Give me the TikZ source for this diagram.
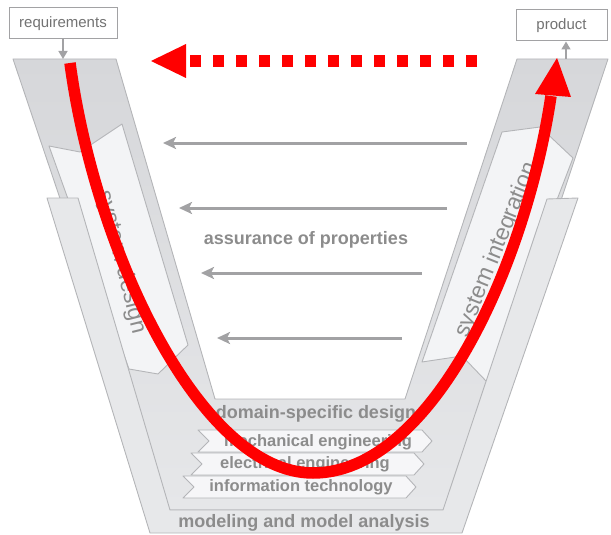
\documentclass[tikz,border=0pt]{standalone}
\usepackage{fontspec}
\setmainfont{Liberation Sans}
\usetikzlibrary{arrows.meta}
\definecolor{bord}{HTML}{B4B5B8}
\definecolor{txtgray}{HTML}{8C8C8C}
\definecolor{argray}{HTML}{A2A2A4}
\definecolor{armtop}{HTML}{D6D7DA}
\definecolor{armbot}{HTML}{E6E7E9}
\definecolor{bandfill}{HTML}{E7E8EA}
\definecolor{pentfill}{HTML}{F3F4F6}
\definecolor{chevfill}{HTML}{F6F6F8}
\definecolor{vred}{HTML}{FF0000}
\tikzset{
  plate/.style={draw=bord, line width=0.9pt, line join=round},
  label/.style={text=txtgray, font=\bfseries\fontsize{18}{20}\selectfont, inner sep=0pt},
  chevlabel/.style={text=txtgray, font=\bfseries\fontsize{16.5}{18}\selectfont, inner sep=0pt},
  armlabel/.style={text=txtgray, font=\fontsize{23}{25}\selectfont, inner sep=0pt},
  endbox/.style={draw=argray, line width=1pt, fill=white, text=gray!110, font=\fontsize{15}{17}\selectfont, minimum height=31pt, inner sep=0pt},
  garrow/.style={draw=argray, line width=3pt, -{Stealth[length=13pt,width=12pt,inset=3pt]}},
  smallarrow/.style={draw=argray, line width=1.6pt, -{Triangle[length=8pt,width=9pt]}},
  redline/.style={draw=vred, line width=11.5pt}
}
\begin{document}
\begin{tikzpicture}[x=1pt,y=-1pt]
\useasboundingbox (0,0) rectangle (611,535);

% domain-specific design V (B)
\shade[plate, top color=armtop, bottom color=armbot]
  (13,59) -- (116,59) -- (215,399) -- (405,399) -- (517,59) -- (608,59)
  -- (458,510) -- (165,510) -- cycle;

% system design / system integration chevrons
\fill[pentfill, draw=bord, line width=0.9pt, line join=round]
  (49,146) -- (80,152) -- (122,124) -- (188,345) -- (158,374) -- (129,369) -- cycle;
\fill[pentfill, draw=bord, line width=0.9pt, line join=round]
  (502,132) -- (540,127) -- (573,158) -- (487,382) -- (462,356) -- (422,362) -- cycle;
\node[armlabel, rotate=-76] (sysdes) at (121,262) {system design};
\node[armlabel, rotate=68] (sysint) at (497,250) {system integration};

% modeling and model analysis band (A)
\fill[bandfill, draw=bord, line width=0.9pt, line join=round]
  (47,198) -- (150,533) -- (462,533) -- (578,198) -- (547,199) -- (443,510)
  -- (170,510) -- (78,198) -- cycle;

% discipline chevrons
\fill[chevfill, draw=bord, line width=0.9pt, line join=round]
  (198,430) -- (422,430) -- (432,441) -- (422,452) -- (198,452) -- (209,441) -- cycle;
\fill[chevfill, draw=bord, line width=0.9pt, line join=round]
  (191,453) -- (414,453) -- (424,464) -- (414,475) -- (191,475) -- (202,464) -- cycle;
\fill[chevfill, draw=bord, line width=0.9pt, line join=round]
  (183,476) -- (406,476) -- (416,487) -- (406,498) -- (183,498) -- (194,487) -- cycle;

\node[label] (dom) at (316,414) {domain-specific design};
\node[chevlabel] (mech) at (318,442) {mechanical engineering};
\node[chevlabel] (elec) at (305,464) {electrical engineering};
\node[chevlabel] (info) at (301,487) {information technology};
\node[label] (model) at (304,523) {modeling and model analysis};
\node[label] (assur) at (306,240) {assurance of properties};

% assurance arrows
\coordinate (a1s) at (467,143); \coordinate (a1e) at (163,143);
\coordinate (a2s) at (447,208); \coordinate (a2e) at (179,208);
\coordinate (a3s) at (422,273); \coordinate (a3e) at (201,273);
\coordinate (a4s) at (402,338); \coordinate (a4e) at (217,338);
\draw[garrow] (a1s) -- (a1e);
\draw[garrow] (a2s) -- (a2e);
\draw[garrow] (a3s) -- (a3e);
\draw[garrow] (a4s) -- (a4e);

% requirements / product boxes
\node[endbox, minimum width=108pt] (req) at (63,23.5) {requirements};
\node[endbox, minimum width=91pt] (prod) at (561.5,25.5) {product};
\coordinate (reqin) at (63,59);
\coordinate (prodin) at (566,59);
\draw[smallarrow] (req.south) -- (reqin);
\draw[smallarrow] (prodin) -- (prodin |- prod.south);

% red dotted feedback arrow
\coordinate (rdA) at (477,61);
\coordinate (rdB) at (189,61);
\draw[redline, dash pattern=on 11pt off 12pt] (rdA) -- (rdB);
\fill[vred] (151,61) -- (186,44) -- (186,78) -- cycle;

% red V path
\coordinate (vs) at (70,63);
\coordinate (vb) at (313,473);
\coordinate (ve) at (551,96);
\draw[redline, line cap=butt] (vs) .. controls (95,250) and (200,473) .. (vb)
  .. controls (430,473) and (525,270) .. (ve);
\fill[vred] (557,58) -- (535,94) -- (571,97) -- cycle;
\end{tikzpicture}
\end{document}
